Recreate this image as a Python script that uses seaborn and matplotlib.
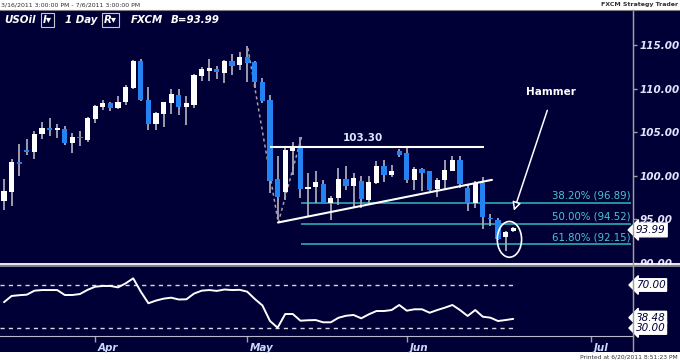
import numpy as np
import pandas as pd
import matplotlib
matplotlib.use('Agg')
import matplotlib.pyplot as plt
from matplotlib.patches import Rectangle, Ellipse
from matplotlib.lines import Line2D
import matplotlib.transforms as mtransforms
import seaborn as sns

# daily USOil candles, 3/16/2011 .. 6/21/2011 (bar index, holidays skipped)
opens = [97.1, 98.1, 101.6, 103.0, 102.7, 104.8, 105.5, 105.3, 105.4, 103.7,
         104.4, 104.1, 106.5, 107.9, 108.3, 107.8, 108.5, 110.1, 113.2, 108.7,
         105.9, 107.1, 108.3, 109.3, 107.9, 108.1, 111.4, 112.0, 112.2, 111.8,
         113.2, 112.7, 113.6, 113.0, 110.8, 108.7, 99.6, 98.1, 102.8, 103.3,
         98.5, 98.7, 99.1, 96.9, 97.5, 99.6, 98.8, 99.4, 97.2, 99.2,
         101.1, 100.1, 102.8, 102.6, 99.5, 100.8, 100.5, 98.5, 99.5, 100.6,
         101.8, 98.6, 96.9, 99.2, 95.1, 94.9, 93.0, 93.7]
highs = [99.6, 101.9, 103.6, 104.2, 105.1, 106.2, 106.6, 105.9, 105.7, 104.9,
         105.1, 106.7, 108.1, 108.7, 108.5, 109.1, 110.4, 113.3, 113.4, 110.2,
         107.3, 108.5, 110.0, 109.9, 109.1, 111.7, 112.5, 113.4, 112.6, 113.3,
         114.0, 114.2, 114.9, 113.2, 111.2, 109.3, 102.3, 103.2, 103.9, 104.4,
         100.3, 100.6, 99.5, 97.7, 100.9, 101.1, 100.3, 100.0, 100.0, 101.7,
         101.8, 101.2, 103.1, 103.3, 101.0, 100.9, 100.6, 99.7, 101.8, 102.3,
         102.3, 99.0, 99.4, 99.9, 95.6, 95.2, 93.7, 94.1]
lows = [96.1, 96.5, 100.0, 102.4, 101.9, 104.2, 104.6, 104.3, 103.5, 102.6,
        103.4, 103.9, 106.1, 107.5, 107.4, 107.6, 108.1, 110.0, 108.6, 105.3,
        105.2, 105.6, 107.1, 107.0, 105.8, 107.8, 110.9, 110.9, 111.1, 110.6,
        111.6, 112.1, 110.7, 110.1, 108.3, 98.0, 95.0, 97.2, 100.1, 97.4,
        95.3, 96.9, 96.8, 94.9, 96.7, 98.4, 96.3, 96.3, 96.7, 99.1,
        99.3, 99.9, 102.2, 99.2, 98.4, 98.2, 98.2, 97.6, 98.4, 100.5,
        98.6, 95.95, 96.3, 93.9, 94.2, 92.6, 91.4, 93.6]
closes = [98.2, 101.6, 101.4, 102.7, 104.8, 105.5, 105.2, 105.5, 103.7, 104.4,
          104.3, 106.6, 108.0, 108.3, 107.8, 108.5, 110.2, 113.2, 108.7, 105.9,
          107.2, 108.4, 109.4, 107.9, 108.3, 111.5, 112.2, 112.3, 111.9, 113.2,
          112.6, 113.6, 112.9, 110.7, 108.6, 99.4, 97.6, 102.9, 103.3, 98.5,
          98.7, 99.3, 96.8, 97.5, 99.6, 98.8, 99.8, 97.3, 99.3, 101.1,
          100.1, 100.5, 102.4, 99.5, 100.8, 100.3, 98.4, 99.5, 100.7, 101.8,
          99.0, 96.9, 99.2, 95.3, 95.0, 92.7, 93.6, 93.99]
rsi = [54.0, 59.8, 60.5, 61.0, 64.7, 65.3, 65.3, 65.3, 60.7, 60.7,
       61.6, 65.5, 68.4, 69.1, 69.1, 67.8, 71.5, 76.2, 63.8, 53.0,
       55.5, 57.3, 58.2, 56.5, 56.7, 62.0, 64.7, 65.3, 64.5, 65.8,
       65.3, 65.5, 63.8, 57.0, 51.0, 36.5, 30.3, 43.0, 43.0, 36.8,
       37.2, 37.4, 35.3, 35.3, 39.5, 41.4, 42.1, 39.0, 42.7, 45.8,
       45.8, 46.7, 51.4, 46.1, 47.4, 47.4, 44.2, 46.7, 48.9, 51.4,
       46.7, 41.2, 46.7, 40.5, 39.6, 36.5, 37.4, 38.48]

month_ticks = [12, 32, 53, 77.2]
month_labels = ['Apr', 'May', 'Jun', 'Jul']
price_ticks = [90, 95, 100, 105, 110, 115]

# drawn studies
resistance = 103.30
support_x = [36.05, 64.2]
support_y = [94.64, 99.53]
swing_x = [32.1, 36.09, 39.17]
swing_y = [114.62, 94.62, 104.52]
fib_levels = [96.89, 94.52, 92.15]
fib_pcts = ['38.20%', '50.00%', '61.80%']

NAVY = '#000036'
BLUE = '#2383f2'
WICK = '#a8a8b4'
TEAL = '#2cbcbc'

sns.set_style('dark', {'axes.facecolor': NAVY})
plt.rcParams['font.family'] = ['DejaVu Sans']

df = pd.DataFrame({'i': np.arange(len(closes)), 'o': opens, 'h': highs,
                   'l': lows, 'c': closes, 'rsi': rsi})

W, H = 680, 361
fx = lambda x: x / W
fy = lambda y: 1 - y / H

fig = plt.figure(figsize=(6.8, 3.61), dpi=100)
fig.patch.set_facecolor('white')
fig.add_artist(Rectangle((0, fy(352)), 1, fy(10) - fy(352), transform=fig.transFigure,
                         facecolor=NAVY, edgecolor='none', zorder=-1))

ax = fig.add_axes([0, fy(263), fx(633), (263 - 10) / H])
ax2 = fig.add_axes([0, fy(336), fx(633), (336 - 266) / H], zorder=2)

# candles
up = df['c'] >= df['o']
cols = np.where(up, 'white', BLUE)
body = np.maximum((df['c'] - df['o']).abs(), 0.15)
ax.vlines(df['i'], df['l'], df['h'], color=WICK, lw=1.3, zorder=2)
ax.bar(df['i'], body, bottom=np.minimum(df['o'], df['c']), width=0.68,
       color=cols, edgecolor='none', zorder=3)

ax.set_xlim(-0.526, 82.76)
ax.set_ylim(90.086, 119.0)

# studies
ax.hlines(resistance, 35.0, 63.2, color='white', lw=1.5, zorder=4)
ax.text(47.2, 104.34, f'{resistance:.2f}', color='#dce8ff', fontsize=7.5,
        fontweight='bold', ha='center', va='center')
ax.plot(support_x, support_y, color='white', lw=1.5, zorder=4)
ax.plot(swing_x, swing_y, color='#a0a0a8', lw=1.1, ls=(0, (2, 2)), zorder=1)
for lvl, pct in zip(fib_levels, fib_pcts):
    ax.hlines(lvl, 39.1, 82.5, color=TEAL, lw=1.1, zorder=1)
    ax.text(82.4, lvl + 0.82, f'{pct} ({lvl:.2f})', color='#48c8c8', fontsize=7.3,
            ha='right', va='center')

ax.add_patch(Ellipse((66.5, 92.71), 3.2, 4.1, facecolor='none', edgecolor='white',
                     lw=1.2, zorder=5))
ax.annotate('', xy=(66.97, 95.69), xytext=(71.6, 107.8),
            arrowprops=dict(arrowstyle='-|>,head_length=0.5,head_width=0.25',
                            color='white', fc=NAVY, lw=1.1))
ax.text(71.97, 109.63, 'Hammer', color='white', fontsize=7.5, fontweight='bold',
        ha='center', va='center')

# price axis
ax.yaxis.tick_right()
ax.set_yticks(price_ticks)
ax.set_yticklabels([f'{v:.2f}' for v in price_ticks])
ax.set_xticks([])
ax.tick_params(axis='y', length=3, width=1, color='#a0a0a0', labelcolor='#e4e4ff',
               labelsize=7.5, pad=2, direction='out')
for t in ax.get_yticklabels():
    t.set_fontstyle('italic')
    t.set_fontweight('bold')
for s in ['top', 'left', 'bottom']:
    ax.spines[s].set_visible(False)
ax.spines['right'].set_color('#a0a0a0')
ax.grid(False)
ax.text(1.004, closes[-1] - 0.2, f'{closes[-1]:.2f}', transform=ax.get_yaxis_transform(),
        color=NAVY, fontsize=7.5, fontstyle='italic', ha='left', va='center',
        clip_on=False, zorder=6,
        bbox=dict(boxstyle='larrow,pad=0.18', fc='white', ec='white'))

# RSI panel
ax2.hlines([70, 30], -0.526, df['i'].iloc[-1], color='#d8d8e0', lw=1, ls=(0, (3, 3)))
sns.lineplot(data=df, x='i', y='rsi', ax=ax2, color='white', lw=1.4)
ax2.set_xlim(-0.526, 82.76)
ax2.set_ylim(22.56, 87.67)
ax2.set_ylabel('')
ax2.set_xlabel('')
ax2.set_yticks([])
ax2.set_xticks(month_ticks)
ax2.set_xticklabels(month_labels)
ax2.tick_params(axis='x', length=4, width=1, color='#a0a0a0', labelcolor='#ccd8ff',
                labelsize=7.5, pad=1, direction='out', bottom=True)
shift = mtransforms.ScaledTranslation(2 / 72, 0, fig.dpi_scale_trans)
for t in ax2.get_xticklabels():
    t.set_ha('left')
    t.set_fontstyle('italic')
    t.set_fontweight('bold')
    t.set_transform(t.get_transform() + shift)
ax2.spines['left'].set_visible(False)
ax2.spines['top'].set_visible(False)
ax2.spines['bottom'].set_color('#b8b8c8')
ax2.spines['right'].set_color('#a0a0a0')
ax2.grid(False)
for v, txt in [(70, '70.00'), (rsi[-1] + 1.2, f'{rsi[-1]:.2f}'), (30, '30.00')]:
    ax2.text(1.004, v, txt, transform=ax2.get_yaxis_transform(), color=NAVY,
             fontsize=7.5, fontstyle='italic', ha='left', va='center', clip_on=False,
             bbox=dict(boxstyle='larrow,pad=0.12', fc='white', ec='white'))

# cover for the clipped bottom price label and panel separators
fig.add_artist(Rectangle((fx(633), fy(352)), 1 - fx(633), fy(264.5) - fy(352),
                         transform=fig.transFigure, facecolor=NAVY, edgecolor='none',
                         zorder=1))
fig.add_artist(Line2D([0, 1], [fy(264), fy(264)], transform=fig.transFigure,
                      color='white', lw=1.3, zorder=3))
fig.add_artist(Line2D([0, 1], [fy(265.8), fy(265.8)], transform=fig.transFigure,
                      color='#9a9aa4', lw=1.2, zorder=3))
fig.add_artist(Line2D([fx(633), fx(633)], [fy(352), fy(10)], transform=fig.transFigure,
                      color='#a0a0a0', lw=1, zorder=3))
fig.add_artist(Line2D([0, 1], [fy(10), fy(10)], transform=fig.transFigure,
                      color='#808080', lw=0.8, zorder=3))

# header
hdr = dict(color='white', fontsize=7.4, fontweight='bold', fontstyle='italic',
           va='center', ha='left')
box = dict(boxstyle='square,pad=0.15', fc='none', ec='#c8c8d0', lw=0.8)
fig.text(fx(4), fy(20), 'USOil', **hdr)
fig.text(fx(43), fy(20), 'I\u25be', bbox=box, **hdr)
fig.text(fx(65), fy(20), '1 Day', **hdr)
fig.text(fx(104), fy(20), 'R\u25be', bbox=box, **hdr)
fig.text(fx(131), fy(20), 'FXCM', **hdr)
fig.text(fx(171), fy(20), 'B=93.99', **hdr)

fig.text(fx(1), fy(5), '3/16/2011 3:00:00 PM - 7/6/2011 3:00:00 PM', fontsize=4.5,
         color='#303030', va='center', ha='left')
fig.text(fx(678), fy(4.5), 'FXCM Strategy Trader', fontsize=4.5, fontweight='bold',
         color='#303030', va='center', ha='right')
fig.text(fx(678), fy(357), 'Printed at 6/20/2011 8:51:23 PM', fontsize=4.3,
         color='#303030', va='center', ha='right')

fig.savefig('out.png', dpi=100, facecolor='white')
